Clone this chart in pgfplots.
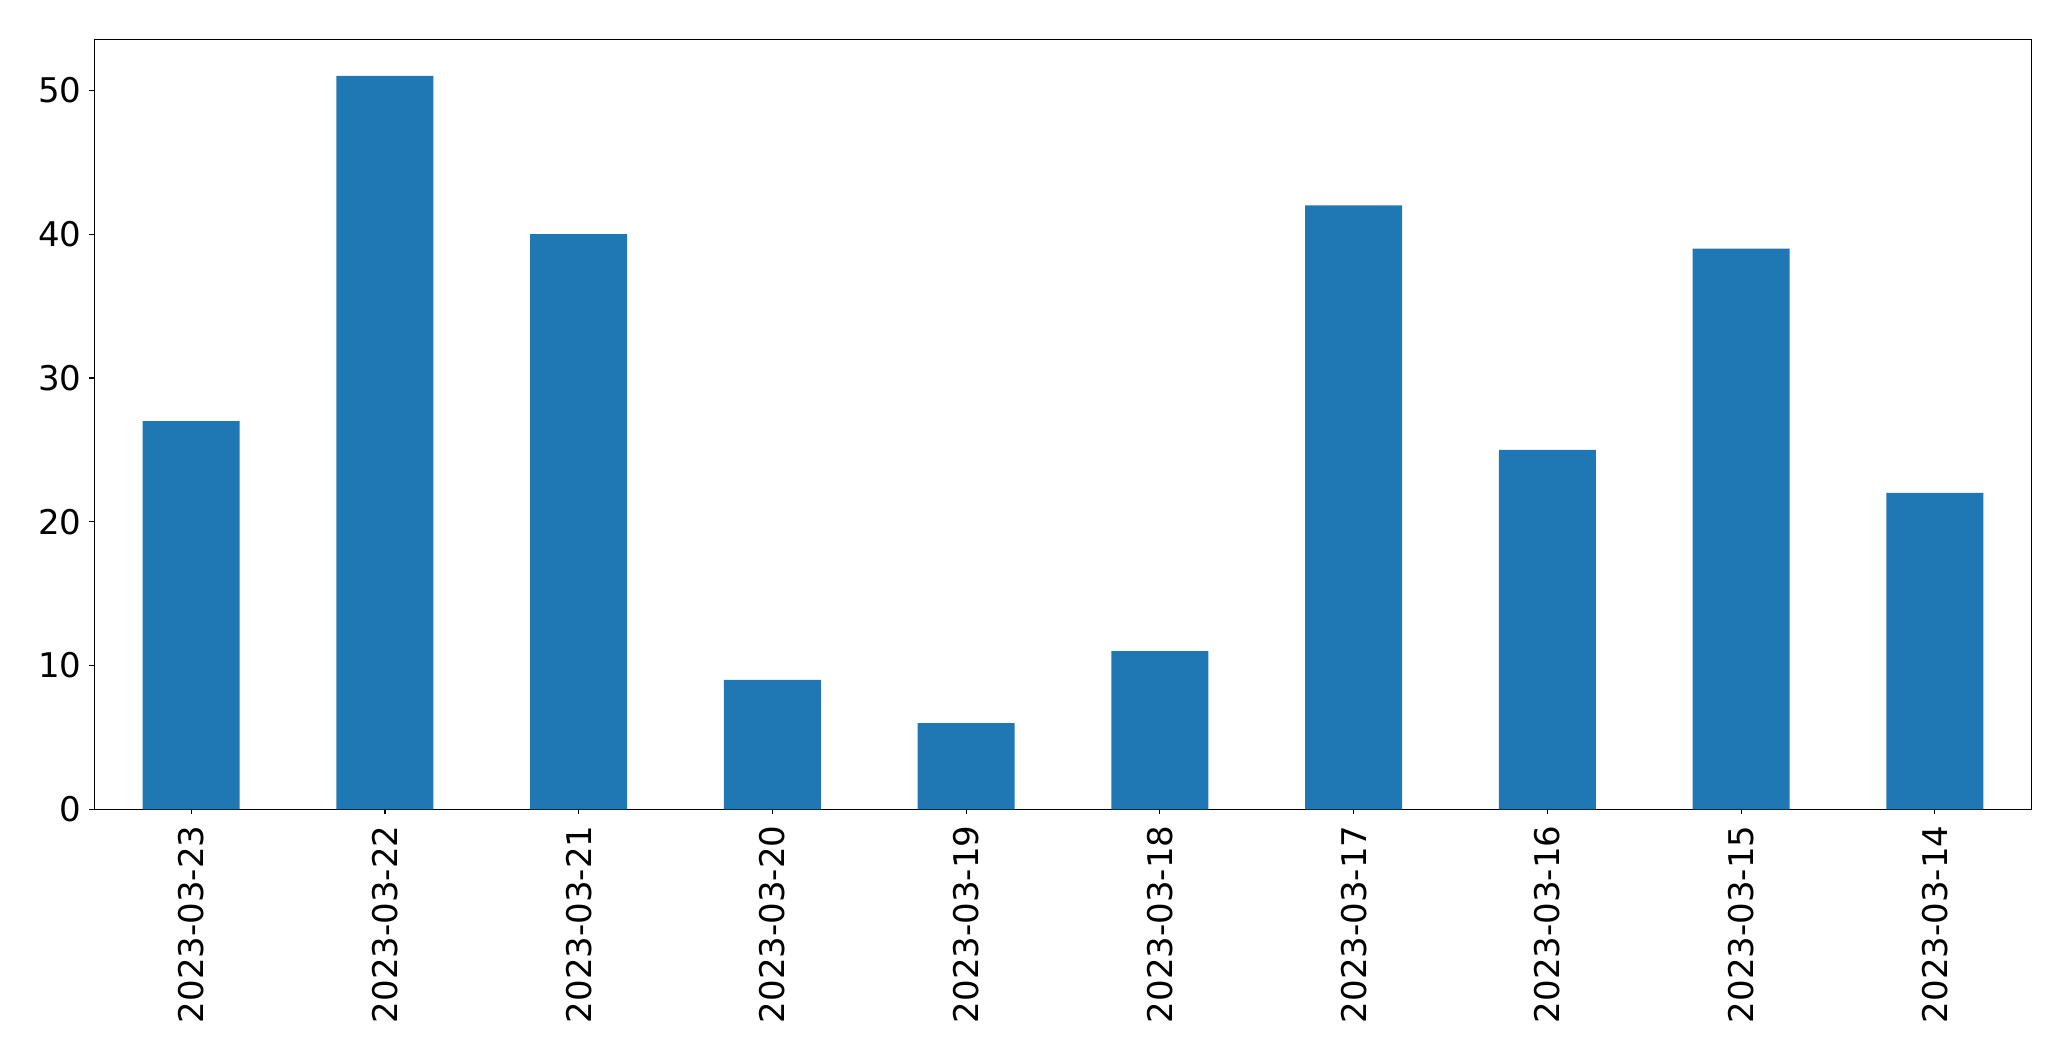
\documentclass[border=0pt]{standalone}
\usepackage{fontspec}
\setmainfont{DejaVu Sans}
\usepackage{pgfplots}
\pgfplotsset{compat=1.18}
\definecolor{mplblue}{HTML}{1F77B4}
\begin{document}
\begin{tikzpicture}
\useasboundingbox (0,0) rectangle (1035.5pt,530.5pt);
\begin{axis}[
  at={(47.15pt,125.85pt)}, anchor=south west,
  width=968.7pt, height=385pt, scale only axis,
  xmin=-0.5, xmax=9.5, ymin=0, ymax=53.55,
  axis line style={line width=0.75pt},
  xtick={0,1,2,3,4,5,6,7,8,9},
  xticklabels={2023-03-23,2023-03-22,2023-03-21,2023-03-20,2023-03-19,2023-03-18,2023-03-17,2023-03-16,2023-03-15,2023-03-14},
  ytick={0,10,20,30,40,50},
  tick align=outside, major tick length=2.5pt,
  tick style={line width=0.6pt, black},
  xtick pos=bottom, ytick pos=left,
  tick label style={font=\fontsize{17}{20}\selectfont, inner sep=0pt},
  /pgf/number format/assume math mode=true,
  xticklabel style={rotate=90, anchor=east},
  xticklabel shift=5.4pt,
  yticklabel shift=3.8pt,
  ybar, bar width=0.5, bar shift=0pt,
]
\addplot[fill=mplblue, draw=none] coordinates {(0,27) (1,51) (2,40) (3,9) (4,6) (5,11) (6,42) (7,25) (8,39) (9,22)};
\end{axis}
\end{tikzpicture}
\end{document}
